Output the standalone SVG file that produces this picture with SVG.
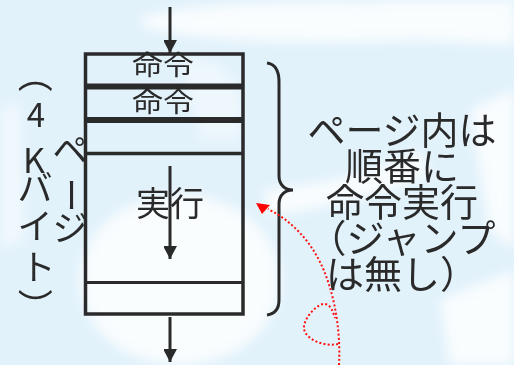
<svg xmlns="http://www.w3.org/2000/svg" width="514" height="365" viewBox="0 0 514 365">
<style>
.ln{stroke:#2a2a2a;fill:none}
.jp{font-family:"Noto Sans CJK JP","Noto Sans",sans-serif;fill:#2a2a2a}
.dot{stroke:#ff1010;stroke-width:2;fill:none;stroke-dasharray:2 2.2}
</style>
<defs>
<filter id="blur" x="-20%" y="-20%" width="140%" height="140%"><feGaussianBlur stdDeviation="6"/></filter>
<marker id="ah" markerUnits="userSpaceOnUse" markerWidth="14" markerHeight="13" refX="13" refY="7" orient="auto">
<path d="M0,0 L13,7 L0,14 Z" fill="#2a2a2a"/>
</marker>
</defs>
<g id="background">
<rect width="514" height="365" fill="#e2f2fb"/>
<g fill="#ffffff" filter="url(#blur)" opacity="0.8">
<ellipse cx="330" cy="22" rx="190" ry="20"/>
<path d="M380,0 L514,0 L514,45 L420,40 Z"/>
<ellipse cx="180" cy="280" rx="100" ry="85"/>
<path d="M265,190 C320,185 370,175 420,150 L430,175 C380,195 320,210 265,215 Z"/>
<path d="M470,110 L514,90 L514,250 L490,230 Z"/>
<path d="M440,300 L514,270 L514,365 L450,365 Z"/>
<path d="M0,110 L20,100 L25,240 L0,250 Z" opacity="0.6"/>
<path d="M180,60 C230,50 250,90 240,140 L200,140 Z" opacity="0.5"/>
</g>
</g>
<g id="page-box">
<rect x="85.5" y="54" width="157.5" height="260" class="ln" stroke-width="3.5"/>
<line x1="85" y1="86.5" x2="243" y2="86.5" class="ln" stroke-width="6"/>
<line x1="85" y1="120" x2="243" y2="120" class="ln" stroke-width="6"/>
<line x1="85" y1="153.5" x2="243" y2="153.5" class="ln" stroke-width="3.5"/>
<line x1="85" y1="282.5" x2="243" y2="282.5" class="ln" stroke-width="3"/>
<text class="jp" font-size="31" text-anchor="middle" transform="translate(163,75) scale(1,0.88)">命令</text>
<text class="jp" font-size="31" text-anchor="middle" transform="translate(163,112) scale(1,0.88)">命令</text>
<text class="jp" font-size="34" x="170" y="216" text-anchor="middle">実行</text>
</g>
<g id="size-label" class="jp" font-size="35" text-anchor="middle">
<text transform="translate(35,75) rotate(90)" y="13">（</text>
<text x="36" y="127" font-size="33">4</text>
<text x="34" y="173" font-size="34">K</text>
<text x="35" y="201">バ</text>
<text x="35" y="239">イ</text>
<text x="38" y="280">ト</text>
<text transform="translate(35,306) rotate(90)" y="13">）</text>
<text x="70" y="163">ペ</text>
<text transform="translate(71,195) rotate(90)" y="13">ー</text>
<text x="70" y="241">ジ</text>
</g>
<g id="brace">
<path d="M267,63 C275,64 279,70 279,82 L279,176 C279,185 285,190 293,190 C285,190 279,195 279,204 L279,300 C279,310 274,314 267,315" class="ln" stroke-width="3"/>
</g>
<g id="note" class="jp" font-size="38" text-anchor="middle">
<text x="402" y="144">ページ内は</text>
<text x="402" y="180">順番に</text>
<text x="402" y="216">命令実行</text>
<text x="402" y="252">（ジャンプ</text>
<text x="402" y="288">は無し）</text>
</g>
<g id="connectors">
<line x1="170" y1="7" x2="170" y2="53" class="ln" stroke-width="3" marker-end="url(#ah)"/>
<line x1="170" y1="166" x2="170" y2="259" class="ln" stroke-width="3" marker-end="url(#ah)"/>
<line x1="170" y1="317" x2="170" y2="362" class="ln" stroke-width="3" marker-end="url(#ah)"/>
<path d="M339,365 C341,330 334,290 320,262 C308,238 290,220 268,209" class="dot"/>
<path d="M338,344 C325,347 306,340 304,329 C303,318 318,303 325,304 C331,305 333,312 335,318" class="dot"/>
<polygon points="256,203 270,205 262,214" fill="#ff0000"/>
</g>
</svg>
